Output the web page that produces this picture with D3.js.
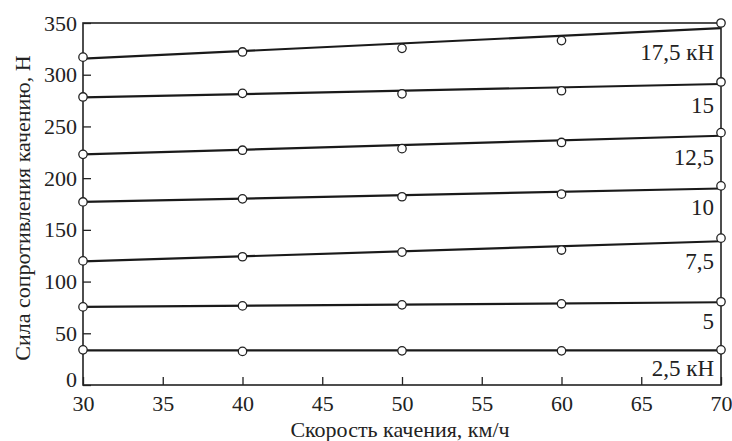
<!DOCTYPE html>
<html>
<head>
<meta charset="utf-8">
<script src="https://cdn.jsdelivr.net/npm/d3@7"></script>
<style>
  body { margin: 0; background: #fff; }
  svg text { font-family: "Liberation Serif", Tinos, "Times New Roman", "DejaVu Serif", "Noto Serif", serif; fill: #222; }
</style>
</head>
<body>
<svg id="chart" width="732" height="441"></svg>
<script>
// speeds, km/h
var speeds = [30, 40, 50, 60, 70]
// wheel loads (labels at right end of each line)
var loadLabels = ["17,5 кН", "15", "12,5", "10", "7,5", "5", "2,5 кН"]
// measured rolling resistance, N
var r175 = [317, 322, 325.5, 333, 350]
var r15  = [278.5, 282, 281.5, 284.5, 293]
var r125 = [223, 227, 228.5, 234.5, 244]
var r10  = [177, 180, 182, 184.5, 192.5]
var r75  = [120, 124, 128.5, 130.5, 142]
var r5   = [75.5, 76.5, 77.5, 78.5, 80.5]
var r25  = [34, 32.5, 33, 33, 34]
// fitted line values at 30 and 70 km/h
var fit175 = [315.5, 345]
var fit15  = [278, 291]
var fit125 = [223, 241]
var fit10  = [177, 190]
var fit75  = [119.5, 139]
var fit5   = [75.5, 80]
var fit25  = [33.5, 33.5]
var xTicks = [30, 35, 40, 45, 50, 55, 60, 65, 70]
var yTicks = [0, 50, 100, 150, 200, 250, 300, 350]

var series = [
  {label: loadLabels[0], pts: r175, fit: fit175, off: 32},
  {label: loadLabels[1], pts: r15,  fit: fit15,  off: 29},
  {label: loadLabels[2], pts: r125, fit: fit125, off: 29},
  {label: loadLabels[3], pts: r10,  fit: fit10,  off: 27},
  {label: loadLabels[4], pts: r75,  fit: fit75,  off: 27.5},
  {label: loadLabels[5], pts: r5,   fit: fit5,   off: 27},
  {label: loadLabels[6], pts: r25,  fit: fit25,  off: 26}
]

var serif = '"Liberation Serif", Tinos, "Times New Roman", "DejaVu Serif", serif'

var svg = d3.select("#chart")
var margin = {top: 23, right: 11, bottom: 56, left: 83}
var width = 732 - margin.left - margin.right
var height = 441 - margin.top - margin.bottom
var g = svg.append("g").attr("transform", "translate(" + margin.left + "," + margin.top + ")")

var x = d3.scaleLinear().domain([30, 70]).range([0, width])
var y = d3.scaleLinear().domain([0, 350]).range([height, 0])

// axes, ticks pointing inward
var gx = g.append("g").attr("transform", "translate(0," + height + ")")
  .call(d3.axisBottom(x).tickValues(xTicks).tickSize(-8).tickPadding(10).tickFormat(d3.format("d")))
var gy = g.append("g")
  .call(d3.axisLeft(y).tickValues(yTicks).tickSize(-8).tickPadding(6).tickFormat(d3.format("d")))
gx.attr("font-family", serif)
gy.attr("font-family", serif)
gx.selectAll(".tick text").style("font-size", "22px")
gy.selectAll(".tick text").style("font-size", "22px")
// lift the "0" label a little so it clears the "30" below it
gy.selectAll(".tick text").filter(d => d === 0).attr("dy", "0.05em")
g.selectAll(".tick text").style("font-family", serif).attr("fill", "#222")
g.selectAll(".tick line").attr("stroke", "#222").attr("stroke-width", 1.3)
g.selectAll(".domain").remove()

g.append("rect")
  .attr("width", width).attr("height", height)
  .attr("fill", "none").attr("stroke", "#222").attr("stroke-width", 1.6)

// fitted lines
g.selectAll(".fit").data(series).enter().append("line")
  .attr("class", "fit")
  .attr("x1", x(30)).attr("x2", x(70))
  .attr("y1", d => y(d.fit[0])).attr("y2", d => y(d.fit[1]))
  .attr("stroke", "#1a1a1a").attr("stroke-width", 2.2)

// measured points
series.forEach(function(s) {
  g.selectAll(null).data(s.pts).enter().append("circle")
    .attr("cx", (d, i) => x(speeds[i]))
    .attr("cy", d => y(d))
    .attr("r", 4.2)
    .attr("fill", "#fff").attr("stroke", "#222").attr("stroke-width", 1.3)
})

// line labels
g.selectAll(".lbl").data(series).enter().append("text")
  .attr("class", "lbl")
  .attr("x", width - 7)
  .attr("y", d => y(d.fit[1]) + d.off)
  .attr("text-anchor", "end")
  .style("font-size", "23px").style("font-family", serif)
  .text(d => d.label)

// axis titles
svg.append("text")
  .attr("x", margin.left + width / 2 - 2).attr("y", 437)
  .attr("text-anchor", "middle").style("font-size", "22px").style("font-family", serif)
  .text("Скорость качения, км/ч")
svg.append("text")
  .attr("transform", "translate(30," + 208 + ") rotate(-90)")
  .attr("text-anchor", "middle").style("font-size", "22px").style("font-family", serif)
  .text("Сила сопротивления качению, Н")
</script>
</body>
</html>
